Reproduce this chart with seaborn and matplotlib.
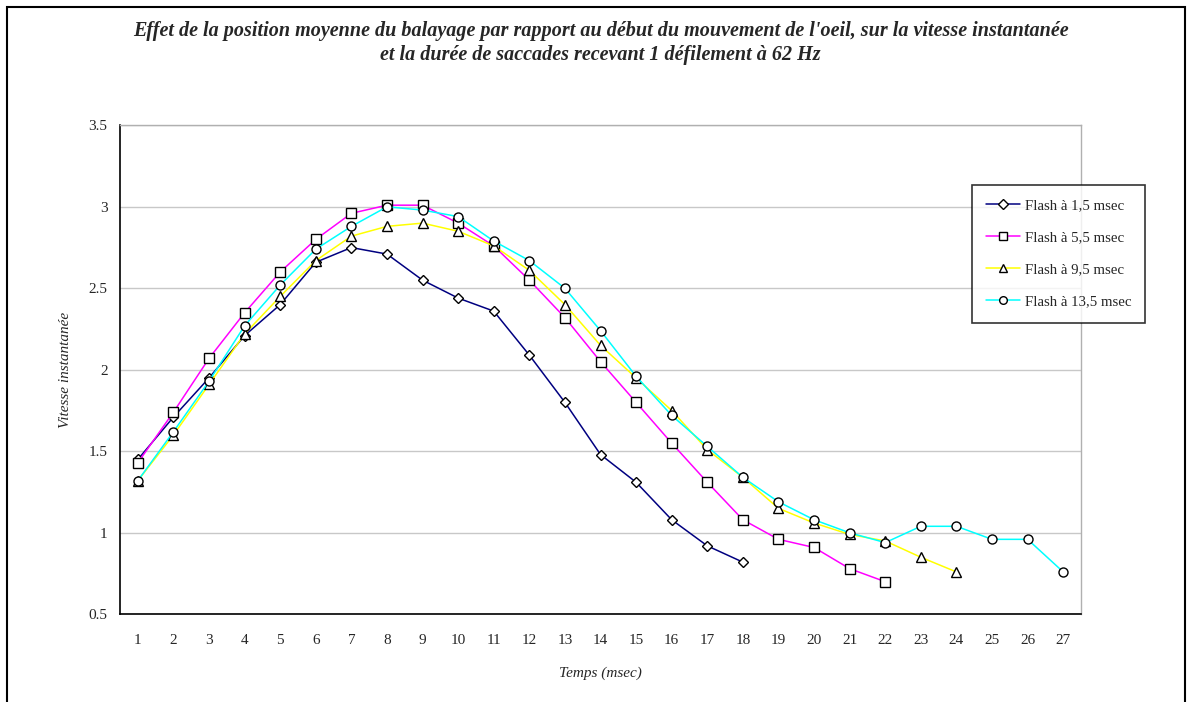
import pandas as pd
import seaborn as sns
import numpy as np
import matplotlib
matplotlib.use("Agg")
import matplotlib.pyplot as plt
from matplotlib.patches import Rectangle

# data
temps = list(range(1, 28))
flash_15 = [1.45, 1.71, 1.95, 2.21, 2.40, 2.66, 2.75, 2.71, 2.55, 2.44, 2.36, 2.09, 1.80, 1.48,
            1.31, 1.08, 0.92, 0.82]
flash_55 = [1.43, 1.74, 2.07, 2.35, 2.60, 2.80, 2.96, 3.01, 3.01, 2.90, 2.76, 2.55, 2.32, 2.05,
            1.80, 1.55, 1.31, 1.08, 0.96, 0.91, 0.78, 0.70]
flash_95 = [1.32, 1.60, 1.91, 2.22, 2.45, 2.67, 2.82, 2.88, 2.90, 2.85, 2.76, 2.61, 2.40, 2.15,
            1.95, 1.75, 1.51, 1.34, 1.15, 1.06, 0.99, 0.95, 0.85, 0.76]
flash_135 = [1.32, 1.62, 1.93, 2.27, 2.52, 2.74, 2.88, 3.00, 2.98, 2.94, 2.79, 2.67, 2.50, 2.24,
             1.96, 1.72, 1.53, 1.34, 1.19, 1.08, 1.00, 0.94, 1.04, 1.04, 0.96, 0.96, 0.76]
series_names = ["Flash à 1,5 msec", "Flash à 5,5 msec", "Flash à 9,5 msec", "Flash à 13,5 msec"]
series_vals = [flash_15, flash_55, flash_95, flash_135]
colors = ["#000080", "#FF00FF", "#FFFF00", "#00FFFF"]
markers = ["D", "s", "^", "o"]
msizes = [5.5, 6.5, 7, 6.5]

sns.set_style("white")
plt.rcParams["font.family"] = ["Liberation Serif", "DejaVu Serif"]

fig = plt.figure(figsize=(11.92, 7.02), dpi=100)
ax = fig.add_axes([0.1007, 0.1249, 0.8062, 0.6966])

handles = []
for name, vals, c, m, ms in zip(series_names, series_vals, colors, markers, msizes):
    df = pd.DataFrame({"Temps": temps[:len(vals)], "Vitesse": vals})
    sns.lineplot(data=df, x="Temps", y="Vitesse", ax=ax, color=c, lw=1.1,
                 marker=m, markersize=ms, markerfacecolor="white",
                 markeredgecolor="black", markeredgewidth=1.0, legend=False)
    handles.append(ax.lines[-1])

ax.set_xlim(0.5, 27.5)
ax.set_ylim(0.5, 3.5)
ax.set_yticks(np.arange(0.5, 3.51, 0.5))
ax.set_yticklabels(["0.5", "1", "1.5", "2", "2.5", "3", "3.5"])
ax.yaxis.grid(True, color="#c8c8c8", lw=1)
ax.set_axisbelow(True)

# category boundaries as major ticks, labels centered on categories
ax.set_xticks(np.arange(0.5, 27.6, 1.0))
ax.set_xticklabels([])
ax.set_xticks(temps, minor=True)
ax.set_xticklabels([str(t) for t in temps], minor=True)
ax.tick_params(axis="x", which="major", direction="inout", length=9, width=1, color="black")
ax.tick_params(axis="x", which="minor", length=0, pad=14, labelsize=11)
ax.tick_params(axis="y", direction="out", length=5, width=1, color="black", labelsize=11, pad=4)

for s in ["left", "bottom"]:
    ax.spines[s].set_color("black")
    ax.spines[s].set_linewidth(1.2)
for s in ["right", "top"]:
    ax.spines[s].set_color("#b0b0b0")
    ax.spines[s].set_linewidth(1)

ax.set_xlabel("Temps (msec)", fontstyle="italic", fontsize=11, labelpad=14)
ax.set_ylabel("Vitesse instantanée", fontstyle="italic", fontsize=11, labelpad=12)

leg = ax.legend(handles, series_names, loc="upper left", bbox_to_anchor=(0.8866, 0.878),
                frameon=True, fancybox=False, edgecolor="black", fontsize=10.7,
                labelspacing=1.25, handlelength=2.3, handletextpad=0.3, borderpad=0.95,
                borderaxespad=0)
leg.get_frame().set_linewidth(1.2)
for h in leg.legend_handles:
    h.set_markersize(5.5)

fig.text(0.504, 0.956, "Effet de la position moyenne du balayage par rapport au début du mouvement de l'oeil, sur la vitesse instantanée",
         ha="center", va="center", fontsize=14.5, fontweight="bold", fontstyle="italic")
fig.text(0.504, 0.922, "et la durée de saccades recevant 1 défilement à 62 Hz",
         ha="center", va="center", fontsize=14.5, fontweight="bold", fontstyle="italic")

# outer chart frame
fig.patches.append(Rectangle((0.006, -0.05), 0.988, 1.04, transform=fig.transFigure,
                             fill=False, edgecolor="black", lw=1.5))

fig.savefig("out.png", dpi=100)
